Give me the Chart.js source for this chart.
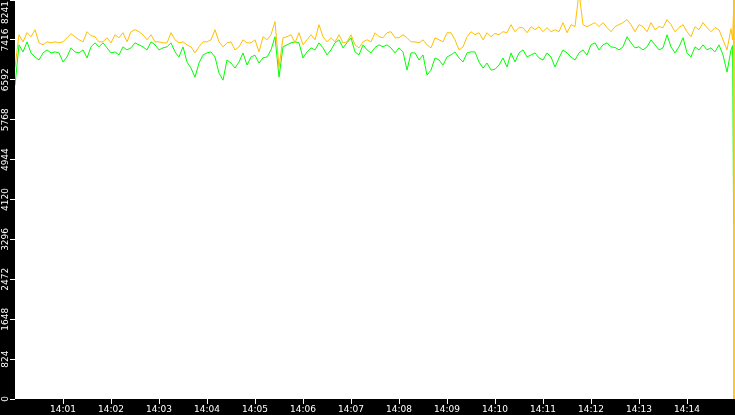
<!DOCTYPE html>
<html>
<head>
<meta charset="utf-8">
<script src="https://cdn.jsdelivr.net/npm/chart.js@4/dist/chart.umd.min.js"></script>
<style>
  html, body { margin: 0; padding: 0; background: #000; }
  #wrap { width: 735px; height: 415px; }
</style>
</head>
<body>
<div id="wrap"><canvas id="c"></canvas></div>
<script>
// seconds after 14:00:00, one sample every 5 s
const STEP = 5;

const yellowValues = [
  6850, 7523, 7377, 7565, 7482, 7627, 7356, 7315, 7377, 7356,
  7377, 7356, 7377, 7461, 7544, 7482, 7419, 7377, 7586, 7503,
  7482, 7377, 7377, 7461, 7356, 7523, 7461, 7565, 7377, 7586,
  7627, 7586, 7523, 7419, 7523, 7377, 7377, 7356, 7356, 7565,
  7419, 7356, 7377, 7315, 7273, 7148, 7273, 7377, 7377, 7419,
  7627, 7377, 7273, 7356, 7377, 7210, 7273, 7419, 7356, 7356,
  7419, 7169, 7482, 7419, 7523, 7795, 6850, 7461, 7482, 7523,
  7356, 7565, 7315, 7419, 7523, 7419, 7732, 7482, 7377, 7461,
  7377, 7523, 7356, 7377, 7523, 7315, 7252, 7377, 7419, 7377,
  7565, 7482, 7461, 7565, 7586, 7461, 7461, 7523, 7461, 7377,
  7377, 7356, 7419, 7315, 7252, 7461, 7419, 7377, 7565, 7565,
  7419, 7210, 7273, 7482, 7586, 7523, 7565, 7419, 7565, 7482,
  7550, 7523, 7586, 7565, 7732, 7586, 7670, 7670, 7565, 7690,
  7627, 7690, 7586, 7670, 7586, 7627, 7586, 7774, 7565, 7732,
  7690, 8400, 7732, 7690, 7732, 7774, 7690, 7774, 7670, 7586,
  7690, 7732, 7774, 7836, 7732, 7586, 7732, 7690, 7586, 7774,
  7627, 7690, 7670, 7836, 7732, 7586, 7670, 7732, 7586, 7482,
  7690, 7627, 7774, 7670, 7586, 7670, 7627, 7419, 7210, 7650
];
const greenValues = [
  6480, 7315, 7169, 7377, 7148, 7065, 7002, 7148, 7210, 7148,
  7169, 7148, 6960, 7065, 7252, 7169, 7148, 7210, 7044, 7273,
  7356, 7273, 7356, 7252, 7148, 7169, 7106, 7273, 7210, 7252,
  7356, 7315, 7273, 7210, 7377, 7315, 7210, 7252, 7273, 7356,
  7169, 7065, 7273, 6960, 6835, 6647, 6939, 7106, 7148, 7169,
  7065, 6731, 6585, 7002, 6939, 6835, 6960, 7148, 6897, 7065,
  7100, 6939, 7044, 7065, 7210, 7482, 6647, 7273, 7315, 7356,
  7377, 7356, 7044, 7169, 7252, 7210, 7356, 7252, 7106, 7210,
  7356, 7419, 7252, 7356, 7461, 7169, 7106, 7315, 7210, 7148,
  7260, 7315, 7273, 7315, 7252, 7148, 7252, 7169, 6793, 7148,
  7148, 7002, 7106, 6689, 6793, 7044, 7002, 6897, 7065, 7106,
  7169, 7044, 6960, 7148, 7169, 7169, 6960, 6835, 6939, 6793,
  6810, 6897, 7044, 6856, 7148, 6960, 7148, 7210, 7065, 7106,
  7148, 7044, 7002, 7148, 7065, 6856, 7044, 7210, 7148, 7065,
  7002, 7148, 7210, 7106, 7315, 7356, 7210, 7315, 7356, 7273,
  7260, 7210, 7273, 7482, 7356, 7252, 7273, 7210, 7273, 7419,
  7315, 7210, 7252, 7523, 7273, 7148, 7273, 7461, 7148, 7065,
  7273, 7210, 7315, 7210, 7252, 7169, 7315, 7106, 6752, 7210
];
// last samples before the feed stops
const yellowTailTimes = [897, 898.6, 898.7];
const yellowTail = [7419, 8241, 0];
const greenTailTimes = [897, 898.3];
const greenTail = [7300, 3600];

const yTicks = [0, 824, 1648, 2472, 3296, 4120, 4944, 5768, 6592, 7416, 8241];
const xTicks = [60, 120, 180, 240, 300, 360, 420, 480, 540, 600, 660, 720, 780, 840];

const toPoints = (vals, tailT, tailV) =>
  vals.map((v, i) => ({ x: i * STEP, y: v }))
      .concat(tailT.map((t, i) => ({ x: t, y: tailV[i] })));

const FONT = { family: "DejaVu Sans", size: 9 };

const plotBg = {
  id: "plotBg",
  beforeDraw(chart) {
    const { ctx, chartArea: a } = chart;
    ctx.save();
    ctx.fillStyle = "#fff";
    ctx.fillRect(a.left, a.top, a.right - a.left, a.bottom - a.top);
    ctx.restore();
  }
};

// y labels are drawn turned on their side, kept inside the canvas
const yLabels = {
  id: "yLabels",
  afterDraw(chart) {
    const { ctx } = chart;
    const sc = chart.scales.y;
    ctx.save();
    ctx.fillStyle = "#fff";
    ctx.font = `${FONT.size}px ${FONT.family}`;
    ctx.textAlign = "center";
    ctx.textBaseline = "middle";
    yTicks.forEach(v => {
      const txt = String(v);
      const w = ctx.measureText(txt).width;
      let y = sc.getPixelForValue(v);
      y = Math.max(y, w / 2 + 1);
      ctx.save();
      ctx.translate(6, y);
      ctx.rotate(-Math.PI / 2);
      ctx.fillText(txt, 0, 0);
      ctx.restore();
    });
    ctx.restore();
  }
};

new Chart(document.getElementById("c"), {
  type: "line",
  data: {
    datasets: [
      {
        label: "yellow",
        data: toPoints(yellowValues, yellowTailTimes, yellowTail),
        borderColor: "#ffc000",
        borderWidth: 1,
        pointRadius: 0,
        tension: 0
      },
      {
        label: "green",
        data: toPoints(greenValues, greenTailTimes, greenTail),
        borderColor: "#00ff00",
        borderWidth: 1,
        pointRadius: 0,
        tension: 0
      }
    ]
  },
  options: {
    responsive: true,
    maintainAspectRatio: false,
    animation: false,
    parsing: false,
    layout: { padding: 0 },
    plugins: { legend: { display: false }, tooltip: { enabled: false } },
    scales: {
      x: {
        type: "linear",
        min: 0,
        max: 900,
        afterBuildTicks: s => { s.ticks = xTicks.map(v => ({ value: v })); },
        afterFit: s => { s.height = 16; s.paddingLeft = 0; s.paddingRight = 0; },
        border: { display: false },
        grid: { drawOnChartArea: false, drawTicks: true, tickLength: 5, tickColor: "#fff", tickWidth: 1 },
        ticks: {
          color: "#fff",
          font: FONT,
          padding: 0,
          maxRotation: 0,
          autoSkip: false,
          callback: v => "14:" + String(Math.round(v / 60)).padStart(2, "0")
        }
      },
      y: {
        min: 0,
        max: 8241,
        afterBuildTicks: s => { s.ticks = yTicks.map(v => ({ value: v })); },
        afterFit: s => { s.width = 15; s.paddingTop = 0; s.paddingBottom = 0; },
        border: { display: false },
        grid: { drawOnChartArea: false, drawTicks: true, tickLength: 5, tickColor: "#fff", tickWidth: 1 },
        ticks: { display: false }
      }
    }
  },
  plugins: [plotBg, yLabels]
});
</script>
</body>
</html>
